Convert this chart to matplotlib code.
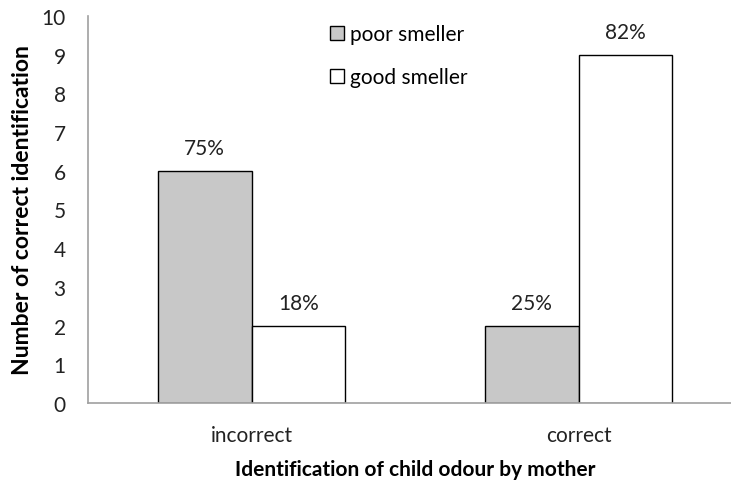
import matplotlib.pyplot as plt
import numpy as np

plt.rcParams['font.family'] = ['Lato', 'DejaVu Sans']

categories = ['incorrect', 'correct']
poor_counts = [6, 2]
good_counts = [2, 9]
poor_pct = ['75%', '25%']
good_pct = ['18%', '82%']

x = np.arange(len(categories))
width = 1 / 3.5  # excel style, gap width 150%

fig = plt.figure(figsize=(7.31, 4.81), dpi=100)
ax = fig.add_axes([88 / 731, 1 - 404 / 481, 654 / 731, 387 / 481])

b1 = ax.bar(x - width / 2, poor_counts, width, color='#c8c8c8', edgecolor='black',
            linewidth=1.0, label='poor smeller')
b2 = ax.bar(x + width / 2, good_counts, width, color='white', edgecolor='black',
            linewidth=1.0, label='good smeller')

for bars, labels in [(b1, poor_pct), (b2, good_pct)]:
    for rect, lab in zip(bars, labels):
        ax.annotate(lab, xy=(rect.get_x() + rect.get_width() / 2, rect.get_height()),
                    xytext=(0, 9), textcoords='offset points', ha='center', va='bottom',
                    fontsize=15, color='#222222')

ax.set_xlim(-0.5, 1.5)
ax.set_ylim(0, 10)
ax.set_yticks(range(0, 11))
ax.set_xticks(x)
ax.set_xticklabels(categories)
ax.tick_params(length=0, labelsize=15, colors='#222222')
ax.tick_params(axis='x', pad=16)
ax.tick_params(axis='y', pad=16)

for side in ['top', 'right']:
    ax.spines[side].set_visible(False)
for side in ['left', 'bottom']:
    ax.spines[side].set_color('#a0a0a0')
    ax.spines[side].set_linewidth(1.2)

ax.set_ylabel('Number of correct identification', fontsize=16.5, fontweight='bold', labelpad=6)
ax.set_xlabel('Identification of child odour by mother', fontsize=15, fontweight='bold', labelpad=10)

ax.legend(loc='upper left', bbox_to_anchor=(330 / 731, 1 - 25 / 481),
          bbox_transform=fig.transFigure, frameon=False, fontsize=15,
          handlelength=0.65, handleheight=0.65, handletextpad=0.3, labelspacing=1.1,
          borderpad=0, borderaxespad=0)

fig.savefig('out.png', dpi=100)
